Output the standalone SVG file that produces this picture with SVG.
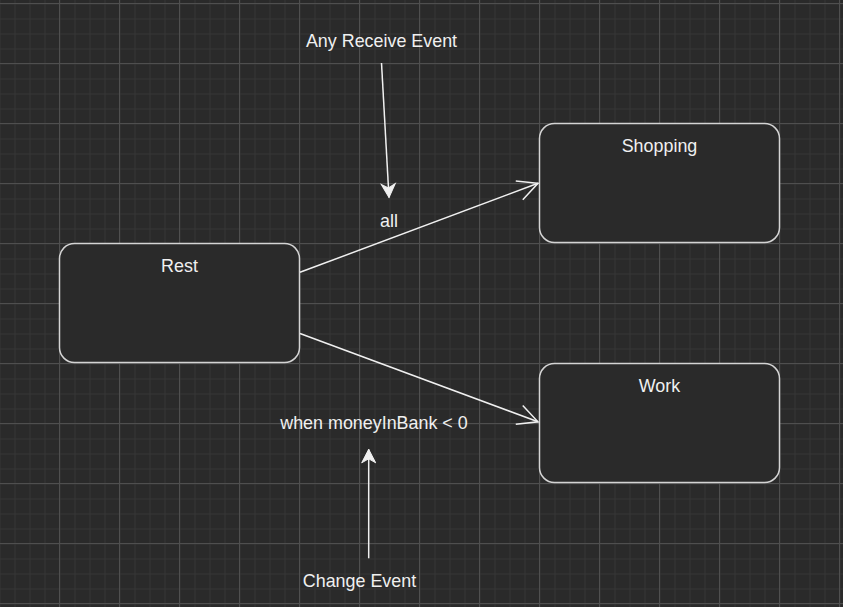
<svg xmlns="http://www.w3.org/2000/svg" width="843" height="607" viewBox="0 0 843 607">
  <defs>
    <pattern id="minor" x="-0.5" y="3.5" width="15" height="15" patternUnits="userSpaceOnUse">
      <path d="M0 0.5 H15 M0.5 0 V15" stroke="#363636" stroke-width="1" fill="none"/>
    </pattern>
    <pattern id="major" x="59" y="3" width="60" height="60" patternUnits="userSpaceOnUse">
      <path d="M0 0.5 H60 M0.5 0 V60" stroke="#4f4f4f" stroke-width="1" fill="none"/>
    </pattern>
    <marker id="open" markerUnits="userSpaceOnUse" markerWidth="24" markerHeight="24" viewBox="-22 -12 24 24" refX="0" refY="0" orient="auto">
      <path d="M-20 -10 L0 0 L-20 10" fill="none" stroke="#f0f0f0" stroke-width="1.5"/>
    </marker>
    <marker id="filled" markerUnits="userSpaceOnUse" markerWidth="18" markerHeight="18" viewBox="-15 -9 18 18" refX="0" refY="0" orient="auto">
      <path d="M0 0 L-13.5 -7 L-9.5 0 L-13.5 7 Z" fill="#f0f0f0" stroke="#f0f0f0" stroke-width="1"/>
    </marker>
    <style>
      .node rect { fill: #2a2a2a; stroke: #d4d4d4; stroke-width: 1.5; }
      text { font-family: "Liberation Sans", Arial, sans-serif; font-size: 17.9px; fill: #f0f0f0; }
      .c { text-anchor: middle; }
      .edge { fill: none; stroke: #f0f0f0; stroke-width: 1.5; }
    </style>
  </defs>
  <rect width="843" height="607" fill="#2a2a2a"/>
  <rect width="843" height="607" fill="url(#minor)"/>
  <rect width="843" height="607" fill="url(#major)"/>

  <g id="nodes">
    <g id="rest" class="node">
      <rect x="59.5" y="243.5" width="240" height="119" rx="15" ry="15"/>
      <text class="c" x="179.5" y="271.5">Rest</text>
    </g>
    <g id="shopping" class="node">
      <rect x="539.5" y="123.5" width="240" height="119" rx="15" ry="15"/>
      <text class="c" x="659.5" y="151.5">Shopping</text>
    </g>
    <g id="work" class="node">
      <rect x="539.5" y="363.5" width="240" height="119" rx="15" ry="15"/>
      <text class="c" x="659.5" y="391.5">Work</text>
    </g>
  </g>

  <g id="connectors">
    <line class="edge" x1="300" y1="272.3" x2="538" y2="183.3" marker-end="url(#open)"/>
    <line class="edge" x1="300" y1="333.5" x2="538" y2="421.8" marker-end="url(#open)"/>
    <line class="edge" x1="381.5" y1="63" x2="389" y2="197.5" marker-end="url(#filled)"/>
    <line class="edge" x1="368.7" y1="558.3" x2="368.7" y2="449.3" marker-end="url(#filled)"/>
  </g>

  <g id="labels">
    <text class="c" x="381.5" y="46.7">Any Receive Event</text>
    <text class="c" x="389" y="226.7">all</text>
    <text class="c" x="374" y="429">when moneyInBank &lt; 0</text>
    <text class="c" x="359.5" y="586.7">Change Event</text>
  </g>
</svg>
